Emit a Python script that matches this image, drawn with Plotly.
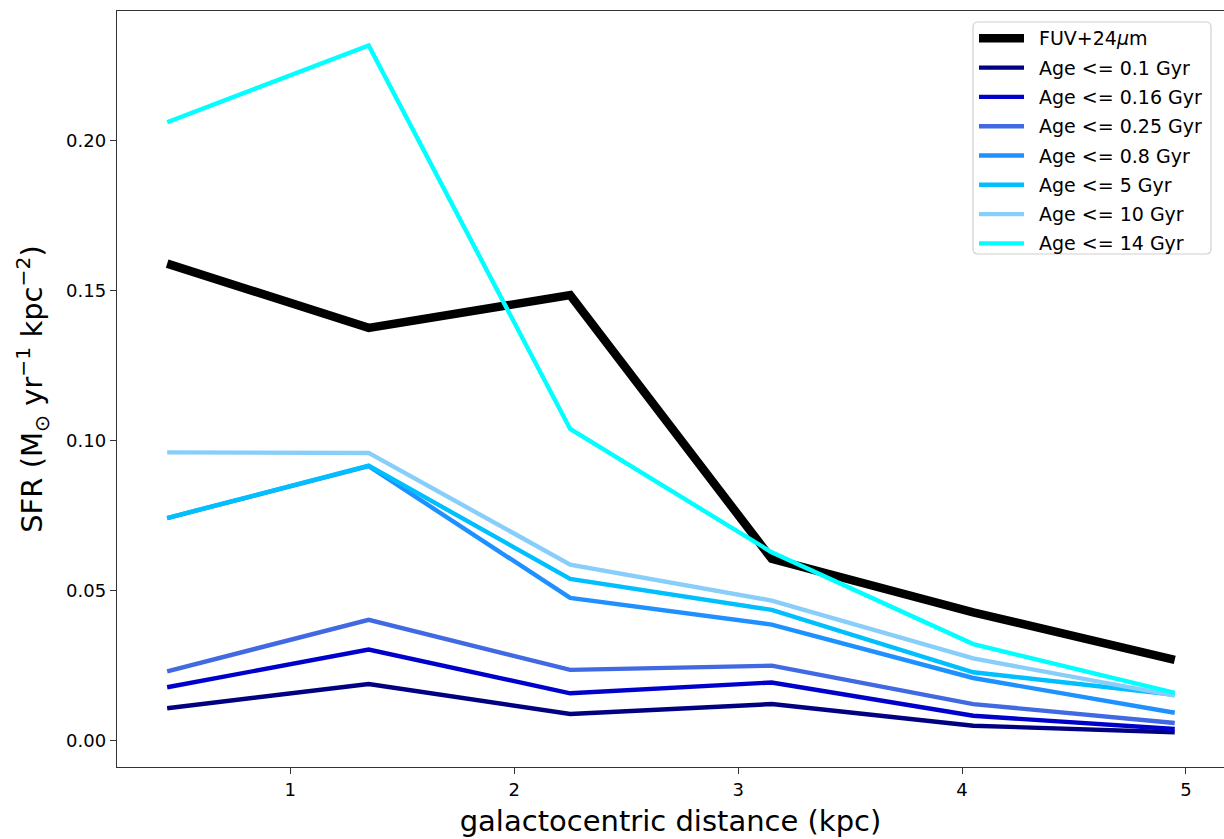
import plotly.graph_objects as go

# Galactocentric distance of each radial bin (kpc)
distance_kpc = [0.45, 1.35, 2.25, 3.15, 4.05, 4.95]

# SFR surface density from FUV+24um
sfr_fuv24 = [0.1590, 0.1376, 0.1485, 0.0606, 0.0428, 0.0269]

# SFR from stellar populations younger than a given age
age_labels = [
    "Age <= 0.1 Gyr",
    "Age <= 0.16 Gyr",
    "Age <= 0.25 Gyr",
    "Age <= 0.8 Gyr",
    "Age <= 5 Gyr",
    "Age <= 10 Gyr",
    "Age <= 14 Gyr",
]
sfr_age_01 = [0.0108, 0.0189, 0.0089, 0.0122, 0.0050, 0.0028]
sfr_age_016 = [0.0178, 0.0304, 0.0158, 0.0194, 0.0083, 0.0039]
sfr_age_025 = [0.0231, 0.0403, 0.0236, 0.0250, 0.0122, 0.0059]
sfr_age_08 = [0.0742, 0.0915, 0.0476, 0.0387, 0.0209, 0.0093]
sfr_age_5 = [0.0742, 0.0917, 0.0539, 0.0436, 0.0228, 0.0153]
sfr_age_10 = [0.0961, 0.0959, 0.0587, 0.0467, 0.0274, 0.0150]
sfr_age_14 = [0.2061, 0.2317, 0.1039, 0.0628, 0.0322, 0.0159]
age_series = [sfr_age_01, sfr_age_016, sfr_age_025, sfr_age_08,
              sfr_age_5, sfr_age_10, sfr_age_14]
age_colors = ["#000080", "#0000CD", "#4169E1", "#1E90FF",
              "#00BFFF", "#87CEFA", "#00FFFF"]

x_ticks = [1, 2, 3, 4, 5]
y_ticks = [0.0, 0.05, 0.10, 0.15, 0.20]

FONT = "DejaVu Sans"
W, H = 1224, 839
ML, MR, MT, MB = 117, 0, 11, 72
PW, PH = W - ML - MR, H - MT - MB


def px(xp):
    return (xp - ML) / PW


def py(yp):
    return (H - MB - yp) / PH


fig = go.Figure()

fig.add_trace(go.Scatter(
    x=distance_kpc, y=sfr_fuv24, mode="lines",
    line=dict(color="black", width=8.5),
    showlegend=False,
))
for label, vals, col in zip(age_labels, age_series, age_colors):
    fig.add_trace(go.Scatter(
        x=distance_kpc, y=vals, mode="lines",
        line=dict(color=col, width=4.4),
        name=label, showlegend=False,
    ))

# Legend drawn as a framed box with line samples and labels
box_l, box_r, box_t, box_b = 973, 1211, 22, 254
rad = 5
bl, br = px(box_l), px(box_r)
bt, bb = py(box_t), py(box_b)
rx, ry = rad / PW, rad / PH
path = (f"M {bl + rx},{bt} L {br - rx},{bt} Q {br},{bt} {br},{bt - ry} "
        f"L {br},{bb + ry} Q {br},{bb} {br - rx},{bb} "
        f"L {bl + rx},{bb} Q {bl},{bb} {bl},{bb + ry} "
        f"L {bl},{bt - ry} Q {bl},{bt} {bl + rx},{bt} Z")
shapes = [dict(type="path", path=path, xref="paper", yref="paper",
               line=dict(color="#d0d0d0", width=1.2),
               fillcolor="rgba(255,255,255,0.8)", layer="above")]
annotations = []

legend_entries = [("FUV+24<i>μ</i>m", "black", 8.5)] + [
    (lab, col, 4.4) for lab, col in zip(age_labels, age_colors)]
row0, row_step = 38.3, 29.3
for i, (lab, col, lw) in enumerate(legend_entries):
    yr = row0 + i * row_step
    shapes.append(dict(type="line", xref="paper", yref="paper",
                       x0=px(979), x1=px(1024), y0=py(yr), y1=py(yr),
                       line=dict(color=col, width=lw), layer="above"))
    annotations.append(dict(text=lab, xref="paper", yref="paper",
                            x=px(1037), y=py(yr), xanchor="left",
                            yanchor="middle", showarrow=False,
                            font=dict(family=FONT, size=19, color="black")))

fig.update_layout(
    width=W, height=H,
    margin=dict(l=ML, r=MR, t=MT, b=MB, pad=0),
    paper_bgcolor="white", plot_bgcolor="white",
    font=dict(family=FONT, color="black"),
    showlegend=False,
    shapes=shapes,
    annotations=annotations,
    xaxis=dict(
        range=[0.226, 5.170],
        tickvals=x_ticks, ticktext=[str(v) for v in x_ticks],
        showgrid=False, zeroline=False,
        showline=True, linecolor="#333333", linewidth=1.4, mirror=True,
        ticks="outside", ticklen=6, tickwidth=1.2, tickcolor="#333333",
        tickfont=dict(family=FONT, size=18, color="black"),
        title=dict(text="galactocentric distance (kpc)",
                   font=dict(family=FONT, size=29, color="black"),
                   standoff=11),
    ),
    yaxis=dict(
        range=[-0.00877, 0.2432],
        tickvals=y_ticks, ticktext=[f"{v:.2f}" for v in y_ticks],
        showgrid=False, zeroline=False,
        showline=True, linecolor="#333333", linewidth=1.4, mirror=False,
        ticks="outside", ticklen=6, tickwidth=1.2, tickcolor="#333333",
        tickfont=dict(family=FONT, size=18, color="black"),
        title=dict(text="SFR (M<sub>⊙</sub> yr<sup>−1</sup> kpc<sup>−2</sup>)",
                   font=dict(family=FONT, size=29, color="black"),
                   standoff=14),
    ),
)

fig.write_html("out.html")
